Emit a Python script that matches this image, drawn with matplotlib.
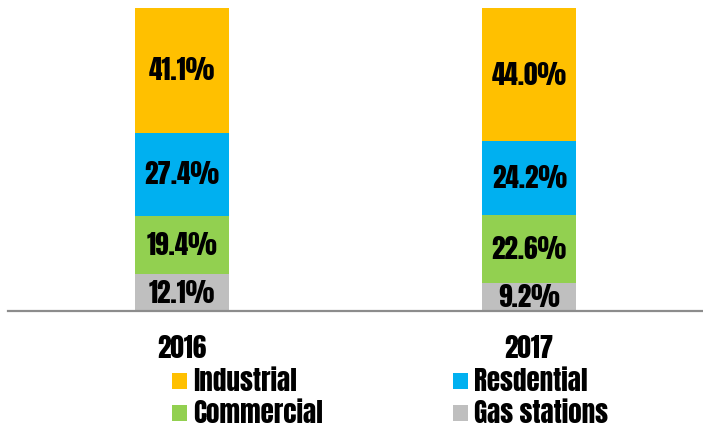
import matplotlib.pyplot as plt
from matplotlib.patches import Patch

years = ['2016', '2017']
segments = ['Gas stations', 'Commercial', 'Resdential', 'Industrial']
gas_stations = [12.1, 9.2]
commercial = [19.4, 22.6]
residential = [27.4, 24.2]
industrial = [41.1, 44.0]

colors = {
    'Industrial': '#FFC000',
    'Resdential': '#00B0F0',
    'Commercial': '#92D050',
    'Gas stations': '#BFBFBF',
}
values = {
    'Gas stations': gas_stations,
    'Commercial': commercial,
    'Resdential': residential,
    'Industrial': industrial,
}

plt.rcParams['font.family'] = ['Anton', 'DejaVu Sans']
FS = 19.5

fig = plt.figure(figsize=(7.03, 4.26), dpi=100)
ax = fig.add_axes([0.0114, 0.27, 0.9886, 0.711])

x = list(range(len(years)))
bottom = [0.0] * len(years)
for seg in segments:
    vals = values[seg]
    ax.bar(x, vals, width=0.27, bottom=bottom, color=colors[seg], edgecolor='none')
    for i, v in enumerate(vals):
        ax.text(x[i], bottom[i] + v / 2, f'{v:.1f}%', ha='center', va='center',
                fontsize=FS, color='black')
    bottom = [b + v for b, v in zip(bottom, vals)]

ax.set_xlim(-0.5, 1.5)
ax.set_ylim(0, 100)
for s in ['top', 'right', 'left']:
    ax.spines[s].set_visible(False)
ax.spines['bottom'].set_color('#8C8C8C')
ax.spines['bottom'].set_linewidth(1.6)
ax.set_yticks([])
ax.set_xticks(x)
ax.set_xticklabels(years, fontsize=FS)
ax.tick_params(axis='x', length=0, pad=17.5)

def make_legend(labels, x0):
    handles = [Patch(facecolor=colors[l], edgecolor='none', label=l) for l in labels]
    fig.legend(handles=handles, loc='upper left', bbox_to_anchor=(x0, 0.137),
               frameon=False, fontsize=FS, handlelength=0.55, handleheight=0.55,
               handletextpad=0.22, labelspacing=0.22, borderpad=0, borderaxespad=0)

make_legend(['Industrial', 'Commercial'], 172 / 703)
make_legend(['Resdential', 'Gas stations'], 453 / 703)

fig.savefig('out.png', dpi=100)
